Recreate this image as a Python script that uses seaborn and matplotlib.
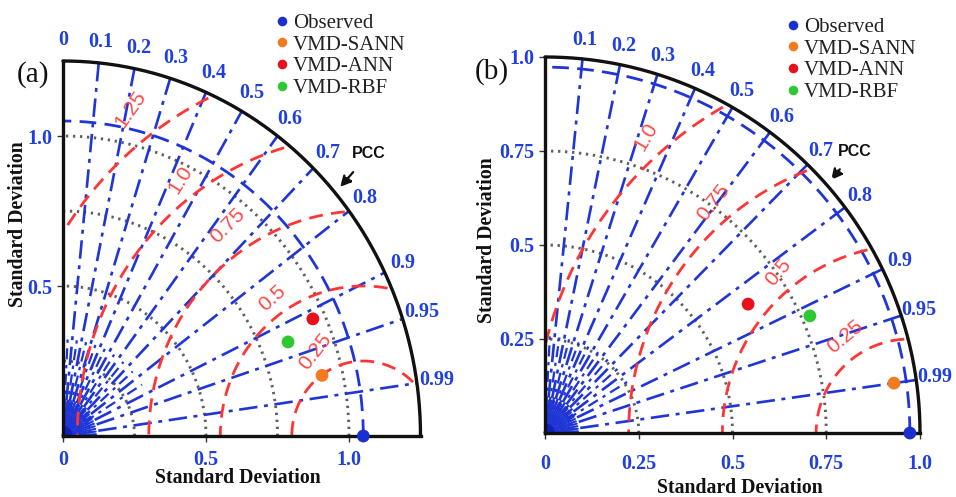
import numpy as np
import pandas as pd
import matplotlib
matplotlib.use("Agg")
import matplotlib.pyplot as plt
import seaborn as sns

sns.set_theme(style="white")
plt.rcParams['font.family'] = ['Liberation Serif', 'DejaVu Serif']

# ---------------- data ----------------
models = ["Observed", "VMD-SANN", "VMD-ANN", "VMD-RBF"]
colors = ["#1a2fd0", "#f47a20", "#e8101a", "#2ec832"]

# panel (a)
std_a = [1.05, 0.928, 0.957, 0.847]
corr_a = [1.0, 0.976, 0.913, 0.929]
# panel (b)
std_b = [0.973, 0.940, 0.641, 0.772]
corr_b = [1.0, 0.990, 0.845, 0.915]

corr_ticks = [0.1, 0.2, 0.3, 0.4, 0.5, 0.6, 0.7, 0.8, 0.9, 0.95, 0.99]
corr_labels = ["0.1", "0.2", "0.3", "0.4", "0.5", "0.6", "0.7", "0.8", "0.9", "0.95", "0.99"]

std_grid_a = [0.25, 0.5, 0.75, 1.0]
std_grid_b = [0.25, 0.5, 0.75]
rms_a = [0.25, 0.5, 0.75, 1.0, 1.25]
rms_b = [0.25, 0.5, 0.75, 1.0]
rms_lab_a = ["0.25", "0.5", "0.75", "1.0", "1.25"]
rms_lab_b = ["0.25", "0.5", "0.75", "1.0"]

xt_a = [0, 0.5, 1.0]; xtl_a = ["0", "0.5", "1.0"]
yt_a = [0.5, 1.0]; ytl_a = ["0.5", "1.0"]
xt_b = [0, 0.25, 0.5, 0.75, 1.0]; xtl_b = ["0", "0.25", "0.5", "0.75", "1.0"]
yt_b = [0.25, 0.5, 0.75, 1.0]; ytl_b = ["0.25", "0.5", "0.75", "1.0"]

BLUE = "#1f35d6"
TICKBLUE = "#1f3fe0"
RED = "#ff3535"
GREY = "#606060"

W, H = 956, 497
fig = plt.figure(figsize=(W / 100, H / 100), dpi=100)


def make_axes(px0, px1, ox, oy, sx, sy):
    ax = fig.add_axes([px0 / W, 0, (px1 - px0) / W, 1])
    ax.set_xlim((px0 - ox) / sx, (px1 - ox) / sx)
    ax.set_ylim((oy - H) / sy, oy / sy)
    return ax


def panel(ax, std, corr, rmax, sgrid, rms, rms_lab, rms_pos, xt, xtl, yt, ytl,
          lab_r, show_zero, pcc_tip, pcc_txt, xpad, sx):
    th = np.linspace(0, np.pi / 2, 300)
    ref = std[0]
    # grey dotted std arcs
    for r in sgrid:
        ax.plot(r * np.cos(th), r * np.sin(th), color=GREY, lw=2.1,
                ls=(0, (0.8, 1.6)), zorder=2)
    # correlation lines
    for c in corr_ticks:
        t = np.arccos(c)
        ax.plot([0, rmax * np.cos(t)], [0, rmax * np.sin(t)], color=BLUE, lw=1.9,
                ls=(0, (7, 2.5, 1.5, 2.5)), zorder=3)
    # shorter intermediate lines near origin
    for c in [0.05, 0.15, 0.25, 0.35, 0.45, 0.55, 0.65, 0.75, 0.85]:
        t = np.arccos(c)
        rr = 0.26 * rmax
        ax.plot([0, rr * np.cos(t)], [0, rr * np.sin(t)], color=BLUE, lw=1.6,
                ls=(0, (5, 2.5, 1.5, 2.5)), zorder=3)
    # dense fan near origin
    r0, r1 = 16 / sx, 33 / sx
    for t in np.linspace(np.radians(3), np.radians(87), 20):
        ax.plot([r0 * np.cos(t), r1 * np.cos(t)], [r0 * np.sin(t), r1 * np.sin(t)],
                color=BLUE, lw=1.5, zorder=3)
    for rr in [11 / sx, 14 / sx]:
        ax.plot(rr * np.cos(th), rr * np.sin(th), color=BLUE, lw=1.0, zorder=3)
    rb = 9 / sx
    ax.fill(np.r_[0, rb * np.cos(th), 0], np.r_[0, rb * np.sin(th), 0], color="#1020c0", zorder=3)
    # reference std arc (blue dashed)
    ax.plot(ref * np.cos(th), ref * np.sin(th), color=BLUE, lw=2.0,
            ls=(0, (6, 3)), zorder=3)
    # RMSD arcs
    phi = np.linspace(0, np.pi, 600)
    for r, lab, (lx, ly, rot) in zip(rms, rms_lab, rms_pos):
        x = ref + r * np.cos(phi)
        y = r * np.sin(phi)
        m = (np.hypot(x, y) <= rmax * 0.99) & (x >= 0)
        x = np.where(m, x, np.nan); y = np.where(m, y, np.nan)
        ax.plot(x, y, color=RED, lw=2.0, ls=(0, (5, 3)), zorder=4)
        ax.text(lx, ly, lab, color=RED, fontsize=15, rotation=rot, ha="center",
                va="center", family=["Liberation Sans"], alpha=0.9, zorder=4)
    # outer arc
    ax.plot(rmax * np.cos(th), rmax * np.sin(th), color="#111111", lw=2.4, zorder=5)
    # spines
    for s in ["top", "right"]:
        ax.spines[s].set_visible(False)
    ax.spines["left"].set_position(("data", 0))
    ax.spines["bottom"].set_position(("data", 0))
    ax.spines["left"].set_bounds(0, rmax)
    ax.spines["bottom"].set_bounds(0, rmax)
    for s in ["left", "bottom"]:
        ax.spines[s].set_color("#111111")
        ax.spines[s].set_linewidth(2.4)
        ax.spines[s].set_zorder(5)
    ax.set_xticks(xt, xtl)
    ax.set_yticks(yt, ytl)
    ax.tick_params(axis="both", direction="out", length=4, width=1, color="#333333",
                   labelcolor=TICKBLUE, labelsize=14.5, left=True, bottom=True)
    ax.tick_params(axis="x", pad=xpad)
    for lb in ax.get_xticklabels() + ax.get_yticklabels():
        lb.set_fontweight("bold")
    # correlation labels
    for c, lab in zip(corr_ticks, corr_labels):
        t = np.arccos(c)
        ax.text(lab_r * np.cos(t), lab_r * np.sin(t), lab, color=TICKBLUE, fontsize=14.5,
                fontweight="bold", ha="center", va="center")
    if show_zero:
        ax.text(0, lab_r, "0", color=TICKBLUE, fontsize=14.5, fontweight="bold",
                ha="center", va="center")
    # PCC
    ax.annotate("PCC", xy=pcc_tip, xytext=pcc_txt, fontsize=11.5, fontweight="bold",
                family=["Liberation Sans"], color="#111111", ha="center", va="center",
                arrowprops=dict(arrowstyle="-|>", color="#111111", lw=1.6, ls="--",
                                mutation_scale=16, shrinkA=7, shrinkB=0))
    # points
    df = pd.DataFrame({"Model": models,
                       "x": np.array(std) * np.array(corr),
                       "y": np.array(std) * np.sqrt(1 - np.array(corr) ** 2)})
    sns.scatterplot(data=df, x="x", y="y", hue="Model", palette=colors, s=85,
                    edgecolor="none", ax=ax, zorder=6, clip_on=False)
    ax.set_xlabel("")
    ax.set_ylabel("")


# panel (a): origin (63,436), 286 px/unit x, 300 px/unit y
axa = make_axes(0, 478, 63, 436, 286, 300)
panel(axa, std_a, corr_a, 1.25, std_grid_a, rms_a, rms_lab_a,
      [(0.881, 0.28, 52), (0.731, 0.46, 42), (0.577, 0.70, 45), (0.41, 0.853, 58), (0.235, 1.09, 55)],
      xt_a, xtl_a, yt_a, ytl_a, 1.32, True, (0.969, 0.83), (1.07, 0.94), 6, 286)
# panel (b): origin (545,433), 375 px/unit x, 376 px/unit y
axb = make_axes(478, 956, 545, 433, 375, 376)
panel(axb, std_b, corr_b, 1.0, std_grid_b, rms_b, rms_lab_b,
      [(0.80, 0.255, 40), (0.621, 0.428, 50), (0.448, 0.612, 52), (0.27, 0.787, 60)],
      xt_b, xtl_b, yt_b, ytl_b, 1.05, False, (0.763, 0.673), (0.826, 0.75), 11, 375)

for ax, (lx, ly), (xx, xy) in [(axa, (18, 224), (238, 478)), (axb, (487, 240), (740, 488))]:
    x0 = ax.get_position().x0 * W
    w = ax.get_position().width * W
    ax.text((lx - x0) / w, 1 - ly / H, "Standard Deviation", transform=ax.transAxes,
            rotation=90, ha="center", va="center", fontsize=14.2, fontweight="bold",
            color="#111111")
    ax.text((xx - x0) / w, 1 - xy / H, "Standard Deviation", transform=ax.transAxes,
            ha="center", va="center", fontsize=14.2, fontweight="bold", color="#111111")

# legends
for ax, (lx, ly) in [(axa, (263, 5)), (axb, (774, 9))]:
    x0 = ax.get_position().x0 * W
    w = ax.get_position().width * W
    sns.move_legend(ax, loc="upper left", bbox_to_anchor=((lx - x0) / w, 1 - ly / H),
                    frameon=False, title=None, fontsize=15, handletextpad=0.05,
                    labelspacing=0.1, markerscale=0.75, borderaxespad=0, handlelength=1.0)
    for t in ax.get_legend().get_texts():
        t.set_color("#222222")

fig.text(33 / W, 1 - 75 / H, "(a)", fontsize=21, ha="center", va="center", color="#111111")
fig.text(492 / W, 1 - 72 / H, "(b)", fontsize=21, ha="center", va="center", color="#111111")

fig.savefig("out.png", dpi=100)
